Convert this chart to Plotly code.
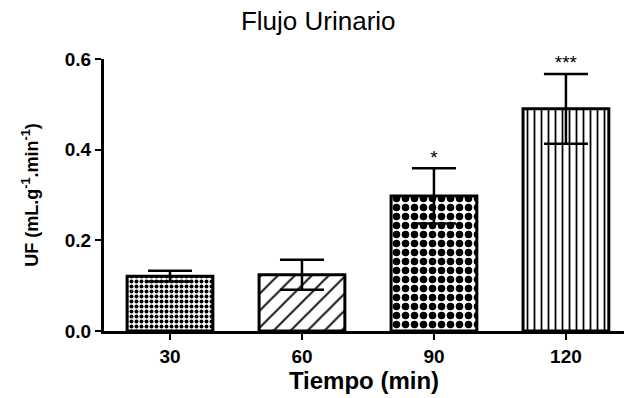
import plotly.graph_objects as go

# Urine flow over time (mean ± SEM)
tiempos = ["30", "60", "90", "120"]
flujo = [0.121, 0.124, 0.298, 0.490]
error = [0.012, 0.033, 0.061, 0.077]
signif = ["", "", "*", "***"]

y_ticks = [0.0, 0.2, 0.4, 0.6]
y_tick_text = ["0.0", "0.2", "0.4", "0.6"]

FONT = "Liberation Sans, Arial, sans-serif"

fig = go.Figure()
fig.add_trace(go.Bar(
    x=tiempos,
    y=flujo,
    width=0.65,
    marker=dict(
        color="white",
        line=dict(color="black", width=3),
        pattern=dict(
            shape=[".", "/", ".", "|"],
            size=[5, 12, 9, 7],
            solidity=[0.5, 0.16, 0.55, 0.25],
            fgcolor="black",
            bgcolor="white",
            fillmode="replace",
        ),
    ),
    error_y=dict(type="data", array=error, visible=True,
                 color="black", thickness=2.5, width=22),
    showlegend=False,
))

# significance marks above the error bars (only where a mark exists)
marked = [i for i, s in enumerate(signif) if s]
fig.add_trace(go.Scatter(
    x=[tiempos[i] for i in marked],
    y=[flujo[i] + error[i] for i in marked],
    text=[signif[i] for i in marked],
    mode="text",
    textposition="top center",
    textfont=dict(family=FONT, size=19, color="black"),
    showlegend=False,
    hoverinfo="skip",
    cliponaxis=False,
))

fig.update_layout(
    width=624, height=398,
    margin=dict(l=104, r=0, t=59, b=67),
    plot_bgcolor="white", paper_bgcolor="white",
    title=dict(text="Flujo Urinario", x=0.51, xref="container", xanchor="center",
               y=1 - 21 / 398, yref="container", yanchor="middle",
               font=dict(family=FONT, size=26, color="black")),
    xaxis=dict(
        type="category", range=[-0.5, 3.44],
        showline=True, linecolor="black", linewidth=3,
        ticks="outside", ticklen=6, tickwidth=2, tickcolor="black",
        tickfont=dict(family=FONT, size=19, color="black", weight="bold"),
        title=dict(text="<b>Tiempo (min)</b>", standoff=6,
                   font=dict(family=FONT, size=24, color="black")),
        showgrid=False, zeroline=False,
    ),
    yaxis=dict(
        range=[0, 0.6], tickvals=y_ticks, ticktext=y_tick_text,
        showline=True, linecolor="black", linewidth=3,
        ticks="outside", ticklen=6, tickwidth=2, tickcolor="black",
        tickfont=dict(family=FONT, size=19, color="black", weight="bold"),
        title=dict(text="<b>UF (mL.g<sup>-1</sup>.min<sup>-1</sup>)</b>", standoff=22,
                   font=dict(family=FONT, size=18, color="black")),
        showgrid=False, zeroline=False,
    ),
)

fig.write_html("out.html")
